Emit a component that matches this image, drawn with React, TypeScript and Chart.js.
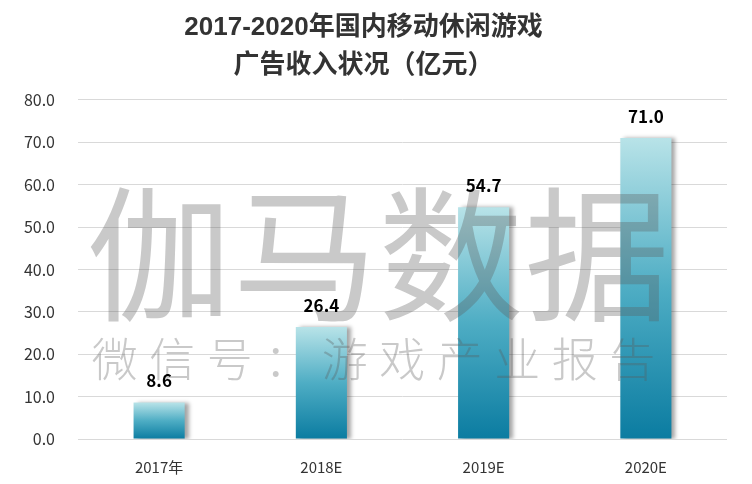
import React, { useEffect, useRef } from "react";
import { Chart, registerables } from "chart.js";

Chart.register(...registerables);

const TITLE_LINES = ["2017-2020年国内移动休闲游戏", "广告收入状况（亿元）"];
const CATEGORIES = ["2017年", "2018E", "2019E", "2020E"];
const REVENUE = [8.6, 26.4, 54.7, 71.0];
const Y_MIN = 0;
const Y_MAX = 80;
const Y_STEP = 10;
const WATERMARK_MAIN = "伽马数据";
const WATERMARK_SUB = "微信号：游戏产业报告";

const FONT = "'Noto Sans CJK SC', 'Noto Sans', sans-serif";
const TITLE_FONT = "'Liberation Sans', 'Noto Sans CJK SC', sans-serif";

export default function App() {
  const canvasRef = useRef<HTMLCanvasElement | null>(null);

  useEffect(() => {
    const canvas = canvasRef.current;
    if (!canvas) return;

    const shadowPlugin = {
      id: "barShadow",
      beforeDatasetsDraw(chart: any) {
        const ctx = chart.ctx;
        ctx.save();
        ctx.shadowColor = "rgba(0,0,0,0.35)";
        ctx.shadowOffsetX = 4;
        ctx.shadowOffsetY = 0;
        ctx.shadowBlur = 4;
      },
      afterDatasetsDraw(chart: any) {
        chart.ctx.restore();
      },
    };

    const overlayPlugin = {
      id: "overlay",
      afterDraw(chart: any) {
        const ctx = chart.ctx;
        // watermark
        ctx.save();
        ctx.fillStyle = "rgba(90,90,90,0.33)";
        ctx.textAlign = "center";
        ctx.textBaseline = "middle";
        ctx.font = `400 145px ${FONT}`;
        const mainChars = Array.from(WATERMARK_MAIN);
        const mainStart = 86;
        const mainStep = 146;
        mainChars.forEach((ch, i) => {
          ctx.fillText(ch, mainStart + mainStep * i + mainStep / 2, 255);
        });
        ctx.font = `300 46px ${FONT}`;
        const subChars = Array.from(WATERMARK_SUB);
        const subStart = 86;
        const subStep = 57.5;
        subChars.forEach((ch, i) => {
          ctx.fillText(ch, subStart + subStep * i + subStep / 2, 359);
        });
        ctx.restore();

        // value labels
        const meta = chart.getDatasetMeta(0);
        ctx.save();
        ctx.fillStyle = "#000";
        ctx.textAlign = "center";
        ctx.textBaseline = "middle";
        ctx.font = `bold 17px ${FONT}`;
        meta.data.forEach((el: any, i: number) => {
          ctx.fillText(REVENUE[i].toFixed(1), el.x, el.y - 22);
        });
        ctx.restore();
      },
    };

    const chart = new Chart(canvas, {
      type: "bar",
      data: {
        labels: CATEGORIES,
        datasets: [
          {
            data: REVENUE,
            borderWidth: 0,
            categoryPercentage: 1,
            barPercentage: 0.315,
            backgroundColor: (c: any) => {
              const ch = c.chart;
              const ys = ch.scales?.y;
              if (!ys || !ch.chartArea || c.raw === undefined) return "#3aa0b8";
              const top = ys.getPixelForValue(c.raw);
              const base = ys.getPixelForValue(0);
              if (!isFinite(top) || !isFinite(base) || top === base) return "#3aa0b8";
              const g = ch.ctx.createLinearGradient(0, top, 0, base);
              g.addColorStop(0, "#b8e3e8");
              g.addColorStop(0.5, "#4eadc4");
              g.addColorStop(1, "#0b7ca1");
              return g;
            },
          },
        ],
      },
      options: {
        animation: false,
        responsive: false,
        devicePixelRatio: 1,
        layout: { padding: { left: 0, right: 25, top: 0, bottom: 0 } },
        plugins: {
          legend: { display: false },
          tooltip: { enabled: false },
          title: {
            display: true,
            text: TITLE_LINES,
            color: "#333",
            font: { family: TITLE_FONT, size: 26, weight: "bold", lineHeight: 1.46 },
            padding: { top: 9, bottom: 15 },
          },
        },
        scales: {
          x: {
            afterFit: (s: any) => {
              s.height = 45;
            },
            grid: { display: false, drawTicks: false },
            border: { display: false },
            ticks: {
              color: "#333",
              font: { family: FONT, size: 15 },
              padding: 19,
              maxRotation: 0,
            },
          },
          y: {
            min: Y_MIN,
            max: Y_MAX,
            afterFit: (s: any) => {
              s.width = 78;
            },
            grid: { color: "#d9d9d9", lineWidth: 1, drawTicks: false },
            border: { display: false },
            ticks: {
              stepSize: Y_STEP,
              color: "#333",
              font: { family: FONT, size: 16 },
              padding: 23,
              callback: (v: any) => Number(v).toFixed(1),
            },
          },
        },
      },
      plugins: [shadowPlugin, overlayPlugin],
    });

    return () => chart.destroy();
  }, []);

  return (
    <div style={{ position: "fixed", left: 0, top: 0, width: 752, height: 484, background: "#fff" }}>
      <canvas ref={canvasRef} width={752} height={484} style={{ width: 752, height: 484 }} />
    </div>
  );
}
